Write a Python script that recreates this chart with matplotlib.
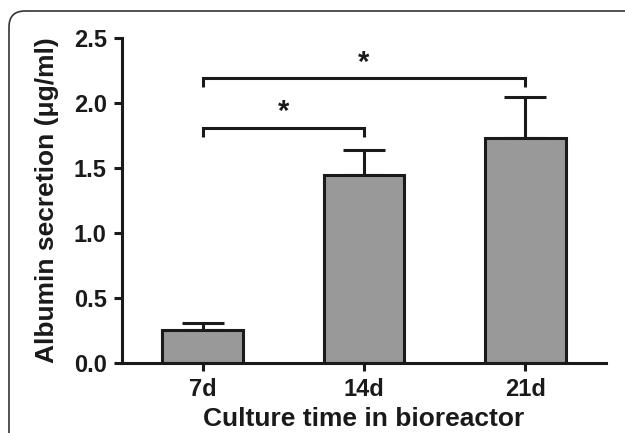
import numpy as np
import matplotlib
matplotlib.use("Agg")
import matplotlib.pyplot as plt
from matplotlib.patches import FancyBboxPatch
from matplotlib.transforms import IdentityTransform

from matplotlib import rcParams
rcParams["font.family"] = "sans-serif"
rcParams["font.sans-serif"] = ["Liberation Sans", "DejaVu Sans"]
rcParams["font.weight"] = "bold"

# Data
categories = ["7d", "14d", "21d"]
means = [0.25, 1.45, 1.73]
errors = [0.06, 0.19, 0.32]
yticks = [0.0, 0.5, 1.0, 1.5, 2.0, 2.5]
bracket_pairs = [(0, 1), (0, 2)]
bracket_heights = [1.81, 2.19]
bracket_labels = ["*", "*"]

dark = "#1a1a1a"
lw = 2.2

fig = plt.figure(figsize=(6.25, 4.33), dpi=100)
ax = fig.add_axes([0.1952, 0.1617, 0.7744, 0.7505])

x = np.arange(len(categories))
ax.bar(x, means, width=0.5, color="#999999", edgecolor=dark, linewidth=lw, zorder=2)
ax.errorbar(x, means, yerr=[np.zeros(len(means)), errors], fmt="none",
            ecolor=dark, elinewidth=lw, capsize=15, capthick=lw, zorder=1)

# Significance brackets
drop = 0.07
for (i, j), h, lab in zip(bracket_pairs, bracket_heights, bracket_labels):
    ax.plot([x[i], x[i], x[j], x[j]], [h - drop, h, h, h - drop], color=dark,
            lw=lw, solid_joinstyle="miter", solid_capstyle="butt", clip_on=False)
    ax.text((x[i] + x[j]) / 2, h + 0.12, lab, ha="center", va="center",
            fontsize=21, fontweight="bold", color=dark)

ax.set_xlim(-0.5, 2.5)
ax.set_ylim(0, 2.5)
ax.set_xticks(x, labels=categories)
ax.set_yticks(yticks, labels=["{:.1f}".format(y) for y in yticks])

for spine in ["top", "right"]:
    ax.spines[spine].set_visible(False)
for spine in ["left", "bottom"]:
    ax.spines[spine].set_linewidth(lw)
    ax.spines[spine].set_color(dark)
ax.tick_params(width=lw, length=6, labelsize=17, color=dark, labelcolor=dark, pad=5)

ax.set_xlabel("Culture time in bioreactor", fontsize=19, fontweight="bold", color=dark, labelpad=4)
ax.set_ylabel("Albumin secretion (μg/ml)", fontsize=19, fontweight="bold", color=dark)
ax.yaxis.set_label_coords(-0.13, 0.5)

# Rounded frame around the figure (runs off right and bottom)
frame = FancyBboxPatch((9, -60), 700, 422 + 60, boxstyle="round,pad=0,rounding_size=16",
                       transform=IdentityTransform(), fill=False, edgecolor="#333333", lw=1.2)
fig.add_artist(frame)

fig.savefig("out.png", dpi=100)
